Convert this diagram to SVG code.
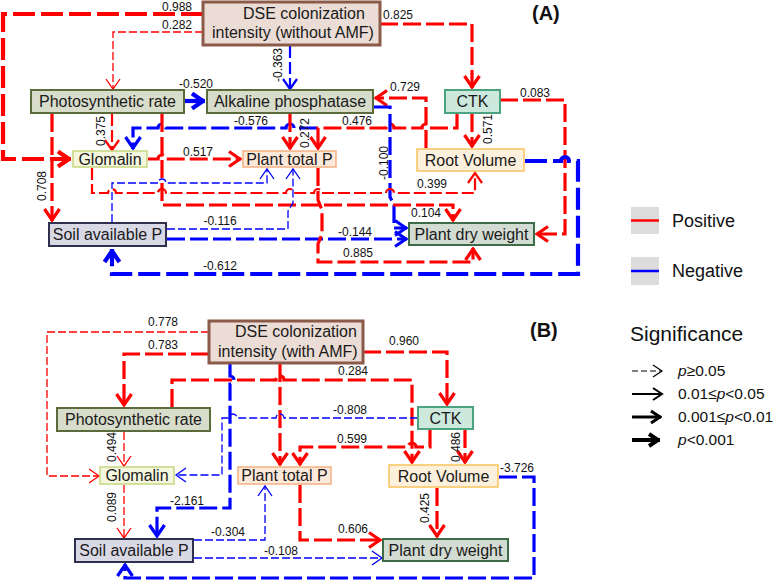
<svg xmlns="http://www.w3.org/2000/svg" width="777" height="582" viewBox="0 0 777 582">
<style>
text{font-family:"Liberation Sans",Arial,sans-serif}
.nt{font-size:16px;fill:#1a1a1a;text-anchor:middle}
.ns{font-size:16px;fill:#1a1a1a}
.lb{font-size:12px;fill:#111;text-anchor:middle}
.c{fill:none}
.r{stroke:#ff0000}.b{stroke:#0000ff}.k{stroke:#000}
.w1{stroke-width:1.3;stroke-dasharray:8 3}
.w2{stroke-width:2.2;stroke-dasharray:12 4}
.w3{stroke-width:3.2;stroke-dasharray:18 5}
.w4{stroke-width:4.2;stroke-dasharray:22 6}
.dse{fill:#ebdcd5;stroke:#8b5a48;stroke-width:3}
.olv{fill:#d8dccb;stroke:#5b6b3b;stroke-width:2}
.ctk{fill:#cde8dc;stroke:#4ca37f;stroke-width:2}
.glo{fill:#f4f6de;stroke:#c5d67f;stroke-width:1.5}
.ptp{fill:#fde9da;stroke:#f4b183;stroke-width:1.5}
.rv{fill:#fdf0dc;stroke:#f9c35c;stroke-width:1.5}
.soil{fill:#d9d9e6;stroke:#2f2f4f;stroke-width:2}
.pdw{fill:#d3dcd2;stroke:#3d6b47;stroke-width:2}
.leg{font-size:18px;fill:#111}
.sig{font-size:15.5px;fill:#111}
.ttl{font-size:20px;font-weight:bold;fill:#111}
</style>
<defs>
<marker id="ar1" viewBox="-14 -10 16 20" markerWidth="16" markerHeight="20" refX="0" refY="0" orient="auto" markerUnits="userSpaceOnUse"><path d="M-10,-7 L0,0 L-10,7" fill="none" stroke="#ff0000" stroke-width="1.3"/></marker>
<marker id="ar2" viewBox="-14 -10 16 20" markerWidth="16" markerHeight="20" refX="0" refY="0" orient="auto" markerUnits="userSpaceOnUse"><path d="M-10,-7 L0,0 L-10,7" fill="none" stroke="#ff0000" stroke-width="2.2"/></marker>
<marker id="ar3" viewBox="-14 -10 16 20" markerWidth="16" markerHeight="20" refX="1" refY="0" orient="auto" markerUnits="userSpaceOnUse"><path d="M-11,-7.5 L0,0 L-11,7.5" fill="none" stroke="#ff0000" stroke-width="3.2"/></marker>
<marker id="ar4" viewBox="-14 -10 16 20" markerWidth="16" markerHeight="20" refX="2" refY="0" orient="auto" markerUnits="userSpaceOnUse"><path d="M-11,-7.5 L0,0 L-11,7.5" fill="none" stroke="#ff0000" stroke-width="4.2"/></marker>
<marker id="ab1" viewBox="-14 -10 16 20" markerWidth="16" markerHeight="20" refX="0" refY="0" orient="auto" markerUnits="userSpaceOnUse"><path d="M-10,-7 L0,0 L-10,7" fill="none" stroke="#0000ff" stroke-width="1.3"/></marker>
<marker id="ab2" viewBox="-14 -10 16 20" markerWidth="16" markerHeight="20" refX="0" refY="0" orient="auto" markerUnits="userSpaceOnUse"><path d="M-10,-7 L0,0 L-10,7" fill="none" stroke="#0000ff" stroke-width="2.2"/></marker>
<marker id="ab3" viewBox="-14 -10 16 20" markerWidth="16" markerHeight="20" refX="1" refY="0" orient="auto" markerUnits="userSpaceOnUse"><path d="M-11,-7.5 L0,0 L-11,7.5" fill="none" stroke="#0000ff" stroke-width="3.2"/></marker>
<marker id="ab4" viewBox="-14 -10 16 20" markerWidth="16" markerHeight="20" refX="2" refY="0" orient="auto" markerUnits="userSpaceOnUse"><path d="M-11,-7.5 L0,0 L-11,7.5" fill="none" stroke="#0000ff" stroke-width="4.2"/></marker>
<marker id="ak1" viewBox="-14 -10 16 20" markerWidth="16" markerHeight="20" refX="0" refY="0" orient="auto" markerUnits="userSpaceOnUse"><path d="M-9,-6 L0,0 L-9,6" fill="none" stroke="#000" stroke-width="1.2"/></marker>
<marker id="ak2" viewBox="-14 -10 16 20" markerWidth="16" markerHeight="20" refX="0" refY="0" orient="auto" markerUnits="userSpaceOnUse"><path d="M-9,-6 L0,0 L-9,6" fill="none" stroke="#000" stroke-width="2"/></marker>
<marker id="ak3" viewBox="-14 -10 16 20" markerWidth="16" markerHeight="20" refX="1" refY="0" orient="auto" markerUnits="userSpaceOnUse"><path d="M-9,-6 L0,0 L-9,6" fill="none" stroke="#000" stroke-width="3"/></marker>
<marker id="ak4" viewBox="-14 -10 16 20" markerWidth="16" markerHeight="20" refX="2" refY="0" orient="auto" markerUnits="userSpaceOnUse"><path d="M-9,-6 L0,0 L-9,6" fill="none" stroke="#000" stroke-width="4"/></marker>
</defs>
<rect width="777" height="582" fill="#fff"/>

<g id="connectors">
<!-- Panel A -->
<path class="c r w4" d="M203,14 H3 V159 H71" marker-end="url(#ar4)"/>
<path class="c r w1" d="M203,32 H113 V89" marker-end="url(#ar1)"/>
<path class="c r w3" d="M380,24 H472 V88" marker-end="url(#ar3)"/>
<path class="c b w2" d="M290,46 V89" marker-end="url(#ab2)"/>
<path class="c b w4" d="M184,101 H205" marker-end="url(#ab4)"/>
<path class="c r w2" d="M112,114 V150" marker-end="url(#ar2)"/>
<path class="c b w3" d="M317,128 H294 a4,4 0 0 0 -8,0 H166 a4,4 0 0 0 -8,0 H133 V149" marker-end="url(#ab3)"/>
<path class="c r w3" d="M290,114 V149" marker-end="url(#ar3)"/>
<path class="c r w3" d="M457,114 V128 H430 a4,4 0 0 0 -8,0 H394 a4,4 0 0 0 -8,0 H318 V149" marker-end="url(#ar3)"/>
<path class="c r w3" d="M426,148 V98 H375" marker-end="url(#ar3)"/>
<path class="c r w3" d="M472,114 V147" marker-end="url(#ar3)"/>
<path class="c r w3" d="M500,100 H565 V234 H536" marker-end="url(#ar3)"/>
<path class="c b w3" d="M374,107 H390 V197 L394,205 V228 H407" marker-end="url(#ab3)"/>
<path class="c b w4" d="M525,161 H561 a4,4 0 0 1 8,0 H578 V274 H112 V249" marker-end="url(#ab4)"/>
<path class="c r w3" d="M148,159 H158 a4,4 0 0 1 8,0 H241" marker-end="url(#ar3)"/>
<path class="c r w3" d="M162,114 V205 H453 V221" marker-end="url(#ar3)"/>
<path class="c r w2" d="M92,168 V193 H108 a4,4 0 0 1 8,0 H158 a4,4 0 0 1 8,0 H286 a4,4 0 0 1 8,0 H314 a4,4 0 0 1 8,0 H386 a4,4 0 0 1 8,0 H475 V173" marker-end="url(#ar2)"/>
<path class="c b w1" d="M112,222 V183 H158 a4,4 0 0 1 8,0 H267 V169" marker-end="url(#ab1)"/>
<path class="c b w1" d="M167,229 H288 V211 L293,203 V169" marker-end="url(#ab1)"/>
<path class="c b w3" d="M167,239 H407" marker-end="url(#ab3)"/>
<path class="c r w3" d="M318,168 V200 L322,210 V234 L318,244 V262 H473 V248" marker-end="url(#ar3)"/>
<path class="c r w3" d="M52,114 V221" marker-end="url(#ar3)"/>
<!-- Panel B -->
<path class="c r w1" d="M209,332 H47 V476 H99" marker-end="url(#ar1)"/>
<path class="c r w3" d="M209,354 H124 V406" marker-end="url(#ar3)"/>
<path class="c r w3" d="M363,352 H447 V405" marker-end="url(#ar3)"/>
<path class="c r w3" d="M172,407 V380 H276 a4,4 0 0 1 8,0 H412 V463" marker-end="url(#ar3)"/>
<path class="c r w3" d="M280,364 V465" marker-end="url(#ar3)"/>
<path class="c b w1" d="M418,418 H284 a4,4 0 0 0 -8,0 H237 a4,4 0 0 0 -8,0 H222 V475 H176" marker-end="url(#ab1)"/>
<path class="c b w3" d="M230,364 V376 a4,4 0 0 1 0,8 V508 H157 V537" marker-end="url(#ab3)"/>
<path class="c r w1" d="M124,432 V466" marker-end="url(#ar1)"/>
<path class="c r w1" d="M124,485 V538" marker-end="url(#ar1)"/>
<path class="c r w3" d="M430,430 V447 H416 a4,4 0 0 0 -8,0 H300 V465" marker-end="url(#ar3)"/>
<path class="c r w3" d="M465,430 V463" marker-end="url(#ar3)"/>
<path class="c r w3" d="M437,488 V537" marker-end="url(#ar3)"/>
<path class="c b w3" d="M499,477 H534 V578 H125 V564" marker-end="url(#ab3)"/>
<path class="c r w3" d="M300,485 V540 H381" marker-end="url(#ar3)"/>
<path class="c b w1" d="M194,540 H265 V486" marker-end="url(#ab1)"/>
<path class="c b w1" d="M194,558 H382" marker-end="url(#ab1)"/>

<g id="labels">
<text class="lb" x="177" y="11">0.988</text>
<text class="lb" x="177" y="29">0.282</text>
<text class="lb" x="398" y="19">0.825</text>
<text class="lb" transform="translate(282,65) rotate(-90)">-0.363</text>
<text class="lb" x="196" y="88">-0.520</text>
<text class="lb" transform="translate(105,131) rotate(-90)">0.375</text>
<text class="lb" x="251" y="125">-0.576</text>
<text class="lb" transform="translate(309,133) rotate(-90)">0.272</text>
<text class="lb" x="357" y="125">0.476</text>
<text class="lb" x="405" y="91">0.729</text>
<text class="lb" transform="translate(492,129) rotate(-90)">0.571</text>
<text class="lb" x="535" y="97">0.083</text>
<text class="lb" transform="translate(388,163) rotate(-90)">-0.100</text>
<text class="lb" x="198" y="156">0.517</text>
<text class="lb" x="432" y="188">0.399</text>
<text class="lb" x="426" y="217">0.104</text>
<text class="lb" x="220" y="225">-0.116</text>
<text class="lb" x="355" y="236">-0.144</text>
<text class="lb" x="358" y="257">0.885</text>
<text class="lb" x="220" y="270">-0.612</text>
<text class="lb" transform="translate(46,186) rotate(-90)">0.708</text>
<text class="lb" x="163" y="326">0.778</text>
<text class="lb" x="163" y="349">0.783</text>
<text class="lb" x="404" y="345">0.960</text>
<text class="lb" x="353" y="375">0.284</text>
<text class="lb" x="350" y="414">-0.808</text>
<text class="lb" x="352" y="443">0.599</text>
<text class="lb" transform="translate(116,447) rotate(-90)">0.494</text>
<text class="lb" transform="translate(460,447) rotate(-90)">0.486</text>
<text class="lb" x="517" y="472">-3.726</text>
<text class="lb" x="187" y="505">-2.161</text>
<text class="lb" transform="translate(116,507) rotate(-90)">0.089</text>
<text class="lb" transform="translate(429,508) rotate(-90)">0.425</text>
<text class="lb" x="353" y="533">0.606</text>
<text class="lb" x="228" y="536">-0.304</text>
<text class="lb" x="281" y="555">-0.108</text>
</g>
</g>

<!-- Panel A nodes -->
<g id="dseA"><rect class="dse" x="203" y="2" width="177" height="43"/><text class="ns" x="243" y="19">DSE colonization</text><text class="ns" x="212" y="38">intensity (without AMF)</text></g>
<g id="photoA"><rect class="olv" x="31" y="90" width="153" height="23"/><text class="nt" x="107.5" y="107">Photosynthetic rate</text></g>
<g id="alkA"><rect class="olv" x="207" y="90" width="166" height="23"/><text class="nt" x="290" y="107">Alkaline phosphatase</text></g>
<g id="ctkA"><rect class="ctk" x="445" y="90" width="55" height="23"/><text class="nt" x="472.5" y="107">CTK</text></g>
<g id="gloA"><rect class="glo" x="73" y="151" width="74" height="16"/><text class="nt" x="110" y="165">Glomalin</text></g>
<g id="ptpA"><rect class="ptp" x="243" y="151" width="93" height="16"/><text class="nt" x="289.5" y="165">Plant total P</text></g>
<g id="rvA"><rect class="rv" x="417" y="149" width="107" height="22"/><text class="nt" x="470.5" y="166">Root Volume</text></g>
<g id="soilA"><rect class="soil" x="49" y="223" width="117" height="23"/><text class="nt" x="107.5" y="240">Soil available P</text></g>
<g id="pdwA"><rect class="pdw" x="409" y="223" width="125" height="22"/><text class="nt" x="471.5" y="240">Plant dry weight</text></g>

<!-- Panel B nodes -->
<g id="dseB"><rect class="dse" x="209" y="321" width="154" height="42"/><text class="ns" x="235" y="337">DSE colonization</text><text class="ns" x="218" y="357">intensity (with AMF)</text></g>
<g id="photoB"><rect class="olv" x="57" y="408" width="153" height="23"/><text class="nt" x="133.5" y="425">Photosynthetic rate</text></g>
<g id="ctkB"><rect class="ctk" x="418" y="407" width="55" height="22"/><text class="nt" x="445.5" y="424">CTK</text></g>
<g id="gloB"><rect class="glo" x="100" y="467" width="74" height="17"/><text class="nt" x="137" y="481">Glomalin</text></g>
<g id="ptpB"><rect class="ptp" x="238" y="467" width="93" height="17"/><text class="nt" x="284.5" y="481">Plant total P</text></g>
<g id="rvB"><rect class="rv" x="389" y="465" width="109" height="22"/><text class="nt" x="443.5" y="482">Root Volume</text></g>
<g id="soilB"><rect class="soil" x="75" y="539" width="118" height="23"/><text class="nt" x="134" y="556">Soil available P</text></g>
<g id="pdwB"><rect class="pdw" x="383" y="539" width="125" height="22"/><text class="nt" x="445.5" y="556">Plant dry weight</text></g>

<!-- Titles and legend -->
<text class="ttl" x="532" y="20">(A)</text>
<text class="ttl" x="530" y="337">(B)</text>
<g id="legend">
<rect x="631" y="207" width="28" height="27" fill="#dcdcdc"/>
<line x1="631" y1="220.5" x2="659" y2="220.5" stroke="#ff0000" stroke-width="2.5"/>
<text class="leg" x="672" y="227">Positive</text>
<rect x="631" y="257" width="28" height="28" fill="#dcdcdc"/>
<line x1="631" y1="271" x2="659" y2="271" stroke="#0000ff" stroke-width="2.5"/>
<text class="leg" x="672" y="277">Negative</text>
<text x="630" y="341" font-size="21" fill="#111">Significance</text>
<path class="c k" d="M632,371 H662" stroke-width="1.2" stroke-dasharray="6 3" marker-end="url(#ak1)"/>
<text class="sig" x="678" y="376"><tspan font-style="italic">p</tspan>≥0.05</text>
<path class="c k" d="M632,394 H662" stroke-width="2" marker-end="url(#ak2)"/>
<text class="sig" x="678" y="399">0.01≤<tspan font-style="italic">p</tspan>&lt;0.05</text>
<path class="c k" d="M632,417 H661" stroke-width="3" marker-end="url(#ak3)"/>
<text class="sig" x="678" y="422">0.001≤<tspan font-style="italic">p</tspan>&lt;0.01</text>
<path class="c k" d="M632,440 H660" stroke-width="4" marker-end="url(#ak4)"/>
<text class="sig" x="678" y="445"><tspan font-style="italic">p</tspan>&lt;0.001</text>
</g>
</svg>
